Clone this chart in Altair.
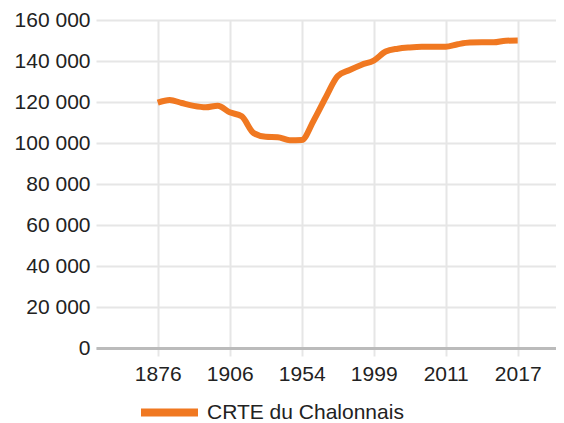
import altair as alt
import pandas as pd

years = [1876, 1881, 1886, 1891, 1896, 1901, 1906, 1911, 1921, 1926, 1931, 1946,
         1954, 1962, 1968, 1975, 1982, 1990, 1999, 2006, 2007, 2008, 2009, 2010,
         2011, 2012, 2013, 2014, 2015, 2016, 2017]
population = [119700, 121000, 119500, 118100, 117400, 118200, 115000, 113000,
              104800, 103000, 102800, 101400, 101500, 111000, 122200, 132600,
              135600, 138200, 140200, 144600, 146000, 146600, 146900, 146900,
              147000, 148200, 149000, 149100, 149100, 149900, 150000]
series_name = "CRTE du Chalonnais"
x_label_years = [1876, 1906, 1954, 1999, 2011, 2017]
y_tick_values = [0, 20000, 40000, 60000, 80000, 100000, 120000, 140000, 160000]

# census years are drawn evenly spaced (one slot per census)
df = pd.DataFrame({
    "slot": list(range(len(years))),
    "year": years,
    "population": population,
    "series": [series_name] * len(years),
})
label_slots = [years.index(y) for y in x_label_years]
year_lookup = "[" + ",".join(f"'{y}'" for y in years) + "]"

FONT = "Liberation Sans"
GRID = "#e6e6e6"

chart = alt.Chart(df).mark_line(strokeWidth=6, strokeJoin="round",
                                interpolate="monotone").encode(
    x=alt.X(
        "slot:Q",
        scale=alt.Scale(domain=[-5.142, 33.191], nice=False, zero=False),
        axis=alt.Axis(
            values=label_slots, title=None, labelAngle=0, grid=True,
            gridColor=GRID, gridWidth=2, domainColor="#bbbbbb", domainWidth=3,
            tickColor=GRID, tickWidth=2, tickSize=8, labelPadding=7,
            labelFontSize=21, labelFont=FONT, labelColor="#222222",
            labelExpr=year_lookup + "[datum.value]",
        ),
    ),
    y=alt.Y(
        "population:Q",
        scale=alt.Scale(domain=[0, 160000], nice=False),
        axis=alt.Axis(
            values=y_tick_values, title=None, domain=False, ticks=False,
            labelPadding=6, grid=True, gridColor=GRID, gridWidth=2,
            labelFontSize=21, labelFont=FONT, labelColor="#222222",
            labelExpr="replace(format(datum.value, ','), ',', ' ')",
        ),
    ),
    color=alt.Color(
        "series:N",
        scale=alt.Scale(range=["#f07821"]),
        legend=alt.Legend(
            title=None, orient="none", legendX=41, legendY=360,
            symbolType="stroke", symbolSize=3249, symbolStrokeWidth=8,
            labelFontSize=21, labelFont=FONT, labelColor="#222222",
            labelOffset=5, padding=0, labelLimit=0,
        ),
    ),
    tooltip=["year:O", "population:Q"],
).properties(
    width=460,
    height=328,
    autosize=alt.AutoSizeParams(type="none"),
    padding={"left": 88, "top": 12, "right": 0, "bottom": 76},
).configure_view(stroke=None)

chart.save("out.html", embed_options={"renderer": "svg", "actions": False})
